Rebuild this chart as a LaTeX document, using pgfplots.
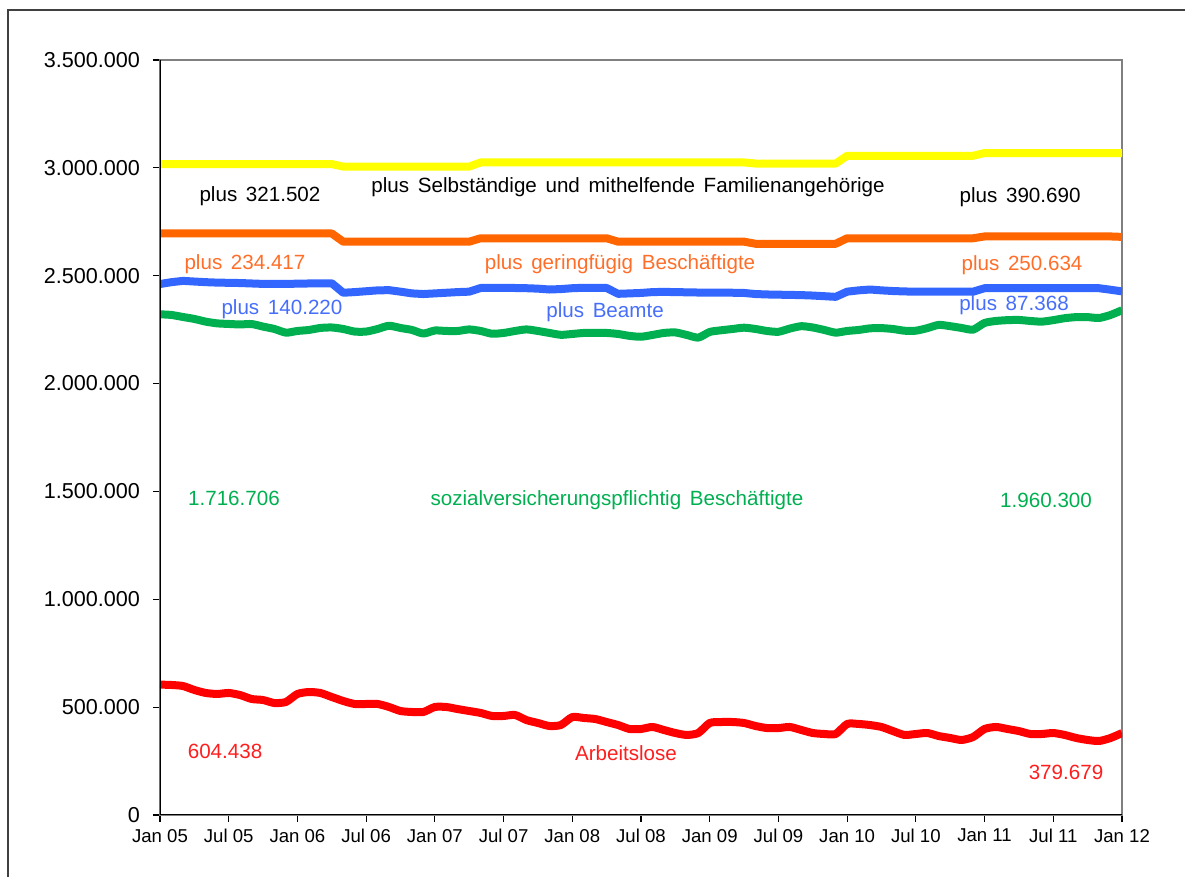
\documentclass[border=0pt]{standalone}
\usepackage{fontspec}
\setmainfont{Liberation Sans}
\usepackage{pgfplots}
\usepackage{pgfplotstable}
\pgfplotsset{compat=1.18}
\definecolor{cYel}{RGB}{255,255,0}
\definecolor{cOra}{RGB}{255,102,0}
\definecolor{cBlu}{RGB}{51,102,255}
\definecolor{cGre}{RGB}{0,176,80}
\definecolor{cRed}{RGB}{255,0,0}
\definecolor{tOra}{RGB}{255,110,40}
\definecolor{tBlu}{RGB}{70,110,250}
\definecolor{tGre}{RGB}{0,176,80}
\definecolor{tRed}{RGB}{255,30,30}
\newcommand\W[1]{\spaceskip=0.42em\relax #1}
\pgfplotstableread{
m red green blue orange yellow
0 604.4 2321.1 2461.4 2695.8 3017.3
1 602.7 2318 2470 2695.8 3017.3
2 598 2308.7 2476 2695.8 3017.3
3 579.5 2299.5 2473 2695.8 3017.3
4 565.6 2287 2470 2695.8 3017.3
5 561 2279 2468 2695.8 3017.3
6 565.6 2276.3 2467 2695.8 3017.3
7 556 2274 2466 2695.8 3017.3
8 537.8 2276 2464 2695.8 3017.3
9 533 2264 2462 2695.8 3017.3
10 519 2253 2461.7 2695.8 3017.3
11 524 2236 2462 2695.8 3017.3
12 561 2243.8 2463 2695.8 3017.3
13 570 2248.5 2464 2695.8 3017.3
14 565.6 2257.7 2465 2695.8 3017.3
15 547 2260 2465 2695.8 3017.3
16 528.5 2253 2421 2657.8 3006
17 514.6 2241 2424 2657.8 3006
18 514.6 2241 2428 2657.8 3006
19 514.6 2253 2432 2657.8 3006
20 500.7 2268 2433 2657.8 3006
21 482 2257.7 2426 2657.8 3006
22 477.5 2248.5 2418 2657.8 3006
23 477.5 2232 2415 2657.8 3006
24 500.7 2246 2418 2657.8 3006
25 500.7 2243.8 2421 2657.8 3006
26 491 2243.8 2424 2657.8 3006
27 482 2251 2426 2657.8 3006
28 473 2243.8 2443 2673.6 3025
29 459 2231 2444 2673.6 3025
30 459 2234.6 2444 2673.6 3025
31 463.6 2243.8 2443 2673.6 3025
32 440 2251 2442 2673.6 3025
33 426.5 2243.8 2440 2673.6 3025
34 412.6 2234.6 2436 2673.6 3025
35 417 2226 2438 2673.6 3025
36 454 2229.9 2442 2673.6 3025
37 449.7 2234.6 2444 2673.6 3025
38 445 2234.6 2444 2673.6 3025
39 431 2234.6 2443 2673.6 3025
40 417 2229.9 2416 2657.8 3025
41 398.7 2221 2418 2657.8 3025
42 398.7 2217 2420 2657.8 3025
43 408 2225.3 2424 2657.8 3025
44 394 2234.6 2425 2657.8 3025
45 380 2237 2424 2657.8 3025
46 371 2225.3 2423 2657.8 3025
47 380 2213 2422 2657.8 3025
48 426.5 2239.2 2422 2657.8 3025
49 431 2247 2422 2657.8 3025
50 431 2253 2421 2657.8 3025
51 426.5 2259 2420 2657.8 3025
52 412.6 2253 2415 2648 3020
53 403 2243.8 2413 2648 3020
54 403 2240 2412 2648 3020
55 408 2255 2411 2648 3020
56 394 2266 2410 2648 3020
57 380 2260 2408 2648 3020
58 375.5 2248.5 2405 2648 3020
59 375.5 2236 2402 2648 3020
60 422 2243.8 2426 2673.6 3056
61 422 2248.5 2432 2673.6 3056
62 417 2256 2436 2673.6 3056
63 408 2257 2432 2673.6 3056
64 389 2253 2429 2673.6 3056
65 371 2245 2427 2673.6 3056
66 375.5 2245 2426 2673.6 3056
67 380 2257 2426 2673.6 3056
68 366 2272 2426 2673.6 3056
69 357 2266 2426 2673.6 3056
70 347.7 2257.7 2426 2673.6 3056
71 361.6 2250 2426 2673.6 3056
72 398.7 2281 2442 2682 3068.7
73 408 2290.2 2442 2682 3068.7
74 398.7 2294 2442 2682 3068.7
75 389 2294.8 2442 2682 3068.7
76 375.5 2290.2 2442 2682 3068.7
77 375.5 2287 2442 2682 3068.7
78 380 2294 2442 2682 3068.7
79 371 2303 2442 2682 3068.7
80 357 2308 2442 2682 3068.7
81 347.7 2308 2442 2682 3068.7
82 343 2304 2442 2682 3068.7
83 357 2318 2435 2682 3068.7
84 379.7 2340 2427.3 2680 3068.7
}\data
\begin{document}
\begin{tikzpicture}
\useasboundingbox (0pt,0pt) rectangle (592.5pt,438.5pt);
\draw[line width=0.8pt, black!75] (4pt,-10pt) -- (4pt,433.5pt) -- (600pt,433.5pt);
\begin{axis}[
  at={(80pt,31pt)}, anchor=south west,
  width=481pt, height=377.5pt, scale only axis,
  xmin=0, xmax=84, ymin=0, ymax=3500,
  xtick={0,6,...,84},
  xticklabels={Jan 05,Jul 05,Jan 06,Jul 06,Jan 07,Jul 07,Jan 08,Jul 08,Jan 09,Jul 09,Jan 10,Jul 10,Jan 11,Jul 11,Jan 12},
  ytick={0,500,...,3500},
  yticklabels={0,500.000,1.000.000,1.500.000,2.000.000,2.500.000,3.000.000,3.500.000},
  tick align=outside, tick pos=left,
  major tick length=3.5pt,
  tick style={black, line width=0.6pt},
  axis line style={gray, line width=0.8pt},
  yticklabel style={font=\fontsize{10.8}{12}\selectfont, xshift=-3pt},
  xticklabel style={font=\fontsize{9.3}{11}\selectfont},
  every axis plot/.append style={line width=4pt, line join=round},
]
\addplot[cYel] table[x=m,y=yellow]{\data};
\addplot[cOra] table[x=m,y=orange]{\data};
\addplot[cBlu] table[x=m,y=blue]{\data};
\addplot[cGre, smooth, tension=0.4] table[x=m,y=green]{\data};
\addplot[cRed, smooth, tension=0.4] table[x=m,y=red]{\data};
\draw[black, line width=0.8pt] (rel axis cs:0,1) -- (rel axis cs:0,0) -- (rel axis cs:1,0);
\begin{scope}[every node/.style={font=\fontsize{10.3}{12}\selectfont, inner sep=0pt}]
\node[text=black] at (axis cs:8.73,2869.7) {\W{plus 321.502}};
\node[text=black] at (axis cs:40.87,2911.4) {\W{plus Selbständige und mithelfende Familienangehörige}};
\node[text=black] at (axis cs:75.1,2865) {\W{plus 390.690}};
\node[text=tOra] at (axis cs:7.42,2554.4) {\W{plus 234.417}};
\node[text=tOra] at (axis cs:40.17,2554.4) {\W{plus geringfügig Beschäftigte}};
\node[text=tOra] at (axis cs:75.27,2549.8) {\W{plus 250.634}};
\node[text=tBlu] at (axis cs:10.65,2345.8) {\W{plus 140.220}};
\node[text=tBlu] at (axis cs:38.86,2331.9) {\W{plus Beamte}};
\node[text=tBlu] at (axis cs:74.57,2364.4) {\W{plus 87.368}};
\node[text=tGre] at (axis cs:6.46,1469.6) {1.716.706};
\node[text=tGre] at (axis cs:39.9,1460.3) {\W{sozialversicherungspflichtig Beschäftigte}};
\node[text=tGre] at (axis cs:77.37,1460.3) {1.960.300};
\node[text=tRed] at (axis cs:5.68,296.7) {604.438};
\node[text=tRed] at (axis cs:40.69,287.4) {Arbeitslose};
\node[text=tRed] at (axis cs:79.11,199.3) {379.679};
\end{scope}
\end{axis}
\end{tikzpicture}
\end{document}
